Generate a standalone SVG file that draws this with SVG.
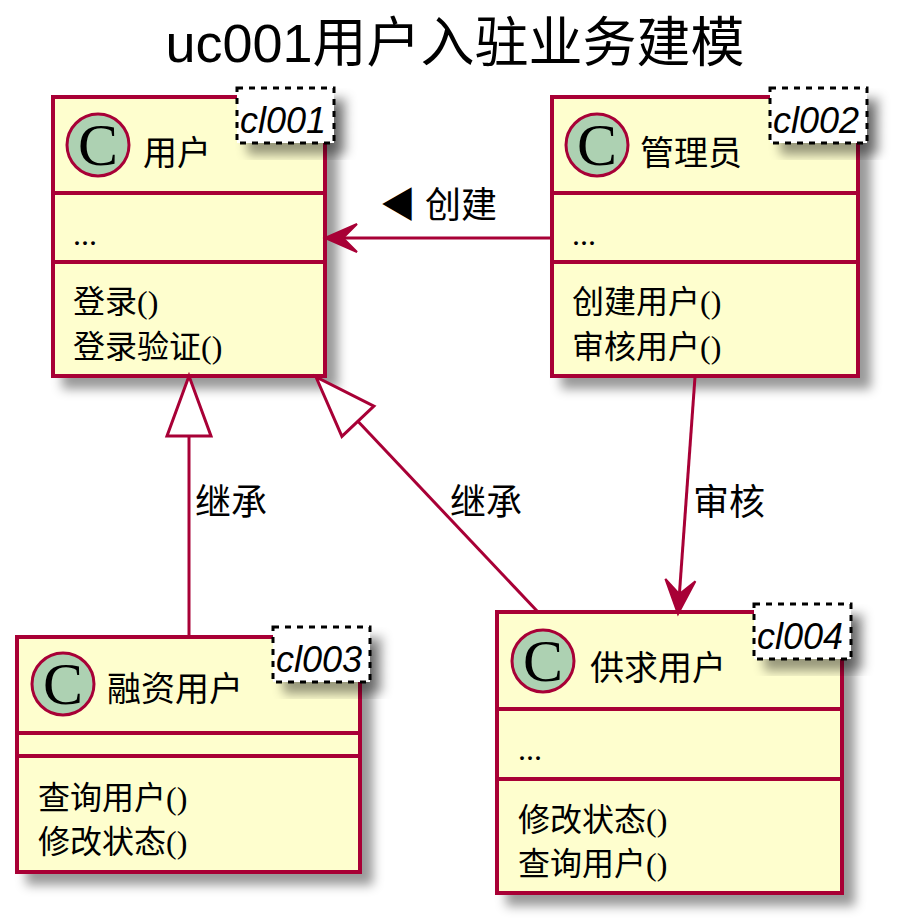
<svg xmlns="http://www.w3.org/2000/svg" width="897" height="922" viewBox="0 0 897 922">
<defs>
<filter id="sh" x="-20%" y="-20%" width="150%" height="150%">
<feGaussianBlur in="SourceAlpha" stdDeviation="5.5" result="b"/>
<feColorMatrix in="b" type="matrix" values="0 0 0 0 0  0 0 0 0 0  0 0 0 0 0  0 0 0 0.4 0" result="c"/>
<feOffset in="c" dx="11" dy="11" result="o"/>
<feBlend in="SourceGraphic" in2="o" mode="normal"/>
</filter>
</defs>
<style>
.box{fill:#FEFECE;stroke:#A80036;stroke-width:4;filter:url(#sh)}
.div{stroke:#A80036;stroke-width:4}
.circ{fill:#ADD1B2;stroke:#A80036;stroke-width:3}
.cl{font-family:"Liberation Serif",serif;font-size:60px;fill:#000;text-anchor:middle}
.name{font-family:"Liberation Serif","Noto Sans CJK SC",serif;font-size:34px;fill:#000}
.mem{font-family:"Liberation Serif","Noto Sans CJK SC",serif;font-size:32px;fill:#000}
.tag{fill:#FFFFFF;stroke:#000;stroke-width:3;stroke-dasharray:6,6;filter:url(#sh)}
.tagt{font-family:"Liberation Sans",sans-serif;font-style:italic;font-size:36px;fill:#000}
.lbl{font-family:"Liberation Serif","Noto Sans CJK SC",serif;font-size:36px;fill:#000}
.ln{stroke:#A80036;stroke-width:3;fill:none}
.head{fill:#A80036;stroke:#A80036;stroke-width:2}
.tri{fill:#FFFFFF;stroke:#A80036;stroke-width:3}
.title{font-family:"Liberation Sans","Noto Sans CJK SC",sans-serif;font-size:54px;fill:#000;text-anchor:middle}
</style>
<rect width="897" height="922" fill="#FFFFFF"/>
<text class="title" x="455" y="62">uc001用户入驻业务建模</text>

<g id="cl001">
<rect class="box" x="53" y="97" width="272" height="279"/>
<line class="div" x1="53" y1="193" x2="325" y2="193"/>
<line class="div" x1="53" y1="262" x2="325" y2="262"/>
<circle class="circ" cx="98" cy="145" r="31"/>
<text class="cl" x="98" y="165">C</text>
<text class="name" x="143" y="165">用户</text>
<text class="mem" x="73" y="245">...</text>
<text class="mem" x="73" y="313">登录()</text>
<text class="mem" x="73" y="358">登录验证()</text>
<rect class="tag" x="237" y="88" width="97" height="55"/>
<text class="tagt" x="240" y="133">cl001</text>
</g>

<g id="cl002">
<rect class="box" x="552" y="97" width="306" height="279"/>
<line class="div" x1="552" y1="193" x2="858" y2="193"/>
<line class="div" x1="552" y1="262" x2="858" y2="262"/>
<circle class="circ" cx="597" cy="145" r="31"/>
<text class="cl" x="597" y="165">C</text>
<text class="name" x="640" y="165">管理员</text>
<text class="mem" x="572" y="245">...</text>
<text class="mem" x="572" y="313">创建用户()</text>
<text class="mem" x="572" y="358">审核用户()</text>
<rect class="tag" x="770" y="88" width="97" height="55"/>
<text class="tagt" x="773" y="133">cl002</text>
</g>

<g id="cl003">
<rect class="box" x="17" y="637" width="343" height="235"/>
<line class="div" x1="17" y1="733" x2="360" y2="733"/>
<line class="div" x1="17" y1="756" x2="360" y2="756"/>
<circle class="circ" cx="63" cy="684" r="31"/>
<text class="cl" x="63" y="704">C</text>
<text class="name" x="107" y="701">融资用户</text>
<text class="mem" x="38" y="809">查询用户()</text>
<text class="mem" x="38" y="853">修改状态()</text>
<rect class="tag" x="273" y="627" width="97" height="55"/>
<text class="tagt" x="276" y="672">cl003</text>
</g>

<g id="cl004">
<rect class="box" x="497" y="612" width="345" height="281"/>
<line class="div" x1="497" y1="709" x2="842" y2="709"/>
<line class="div" x1="497" y1="779" x2="842" y2="779"/>
<circle class="circ" cx="543" cy="661" r="31"/>
<text class="cl" x="543" y="681">C</text>
<text class="name" x="590" y="680">供求用户</text>
<text class="mem" x="518" y="760">...</text>
<text class="mem" x="518" y="831">修改状态()</text>
<text class="mem" x="518" y="875">查询用户()</text>
<rect class="tag" x="754" y="604" width="97" height="55"/>
<text class="tagt" x="757" y="649">cl004</text>
</g>

<g id="connectors">
<g id="e-create">
<line class="ln" x1="552" y1="238" x2="343" y2="238"/>
<polygon class="head" points="325,238 357,224 343,238 357,252"/>
<text class="lbl" x="380" y="218">◀ 创建</text>
</g>
<g id="e-audit">
<line class="ln" x1="695" y1="377" x2="679.4" y2="594"/>
<polygon class="head" points="678,614 695.4,581.2 679.4,594.1 665.4,579"/>
<text class="lbl" x="693" y="515">审核</text>
</g>
<g id="e-inh1">
<line class="ln" x1="189" y1="637" x2="189" y2="436"/>
<polygon class="tri" points="189,376 167,436 211,436"/>
<text class="lbl" x="195" y="515">继承</text>
</g>
<g id="e-inh2">
<line class="ln" x1="538" y1="612" x2="357.9" y2="421.3"/>
<polygon class="tri" points="316,377 341.9,436.4 373.9,406.2"/>
<text class="lbl" x="450" y="515">继承</text>
</g>
</g>
</svg>
